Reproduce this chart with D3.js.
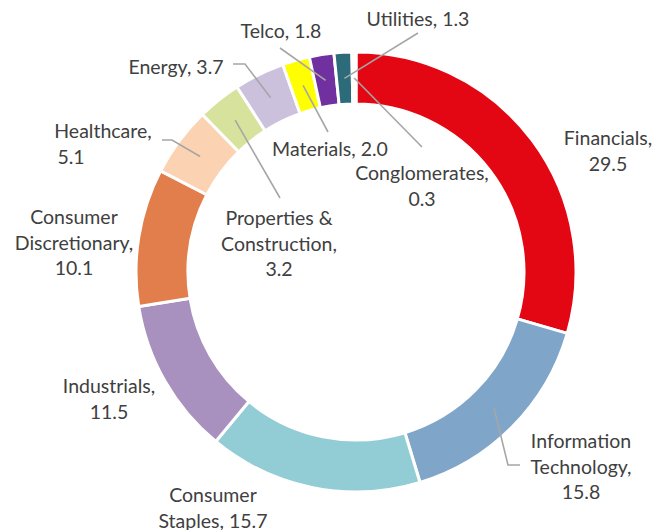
<!DOCTYPE html>
<html>
<head>
<meta charset="utf-8">
<script src="https://cdn.jsdelivr.net/npm/d3@7"></script>
<style>
    html, body { margin: 0; padding: 0; background: #fff; }
    svg text { font-family: Lato, "Open Sans", sans-serif; fill: #404040; }
</style>
</head>
<body>
<svg id="chart" width="667" height="530"></svg>
<script>
// sector weights, clockwise from 12 o'clock
var sectors = ["Financials", "Information Technology", "Consumer Staples", "Industrials",
               "Consumer Discretionary", "Healthcare", "Properties & Construction", "Energy",
               "Materials", "Telco", "Utilities", "Conglomerates"];
var weights = [29.5, 15.8, 15.7, 11.5, 10.1, 5.1, 3.2, 3.7, 2.0, 1.8, 1.3, 0.3];
var colours = ["#E30613", "#7FA6C9", "#92CCD5", "#A891BE", "#E27E4B", "#FBD3B3",
               "#D7E29C", "#CCC1DD", "#FFFF00", "#7030A0", "#2B6B7A", "#FFFFFF"];

// how each label wraps (value is appended to the last line)
var labelLines = {
    "Financials": ["Financials,", ""],
    "Information Technology": ["Information", "Technology,", ""],
    "Consumer Staples": ["Consumer", "Staples, "],
    "Industrials": ["Industrials,", ""],
    "Consumer Discretionary": ["Consumer", "Discretionary,", ""],
    "Healthcare": ["Healthcare,", ""],
    "Properties & Construction": ["Properties &", "Construction,", ""],
    "Energy": ["Energy, "],
    "Materials": ["Materials, "],
    "Telco": ["Telco, "],
    "Utilities": ["Utilities, "],
    "Conglomerates": ["Conglomerates,", ""]
};

/*
 * layout: label block position (centre x, first line middle y)
 * and leader line points after the slice centroid
 */
var labelPos = {
    "Financials": [608, 137],
    "Information Technology": [581, 440],
    "Consumer Staples": [213, 494],
    "Industrials": [109, 385],
    "Consumer Discretionary": [74, 216],
    "Healthcare": [103, 130],
    "Properties & Construction": [279, 217],
    "Energy": [176, 66],
    "Materials": [330, 148],
    "Telco": [281, 30],
    "Utilities": [418, 18],
    "Conglomerates": [422, 172]
};
var lineShift = { "Healthcare": [0, -32] };
var leaders = {
    "Information Technology": [[508, 465], [520, 465]],
    "Healthcare": [[172, 140], [162, 140]],
    "Properties & Construction": [[280, 198]],
    "Energy": [[245, 64], [233, 64]],
    "Materials": [[328, 132]],
    "Telco": [[280, 48]],
    "Utilities": [[418, 33]],
    "Conglomerates": [[422, 147]]
};

var svg = d3.select("#chart"),
    cx = 356, cy = 272,
    outerR = 220, innerR = 168,
    lineH = 25.5;

var pie = d3.pie().sort(null).value(function(d) { return d; });
var arc = d3.arc().innerRadius(innerR).outerRadius(outerR);
var mid = d3.arc().innerRadius(194).outerRadius(194);
var slices = pie(weights);

var g = svg.append("g").attr("transform", "translate(" + cx + "," + cy + ")");

g.selectAll("path.slice")
    .data(slices)
    .enter().append("path")
    .attr("class", "slice")
    .attr("d", arc)
    .attr("fill", function(d, i) { return colours[i]; })
    .attr("stroke", "#fff")
    .attr("stroke-width", 3)
    .attr("stroke-linejoin", "round");

/* leader lines start at each slice centroid */
slices.forEach(function(d, i) {
    var name = sectors[i], c, pts;
    if (!leaders[name]) return;
    c = mid.centroid(d);
    pts = [[c[0] + cx, c[1] + cy]].concat(leaders[name]);
    svg.append("path")
        .attr("d", d3.line()(pts))
        .attr("fill", "none")
        .attr("stroke", "#A6A6A6")
        .attr("stroke-width", 1.6);
});

/* data labels */
sectors.forEach(function(name, i) {
    var lines = labelLines[name].slice(),
        pos = labelPos[name],
        shift = lineShift[name] || [],
        txt = svg.append("text")
            .attr("text-anchor", "middle")
            .attr("dominant-baseline", "central")
            .style("font-size", "19.5px");
    lines[lines.length - 1] += weights[i].toFixed(1);
    lines.forEach(function(l, j) {
        txt.append("tspan")
            .attr("x", pos[0] + (shift[j] || 0))
            .attr("y", pos[1] + j * lineH)
            .text(l);
    });
});
</script>
</body>
</html>
